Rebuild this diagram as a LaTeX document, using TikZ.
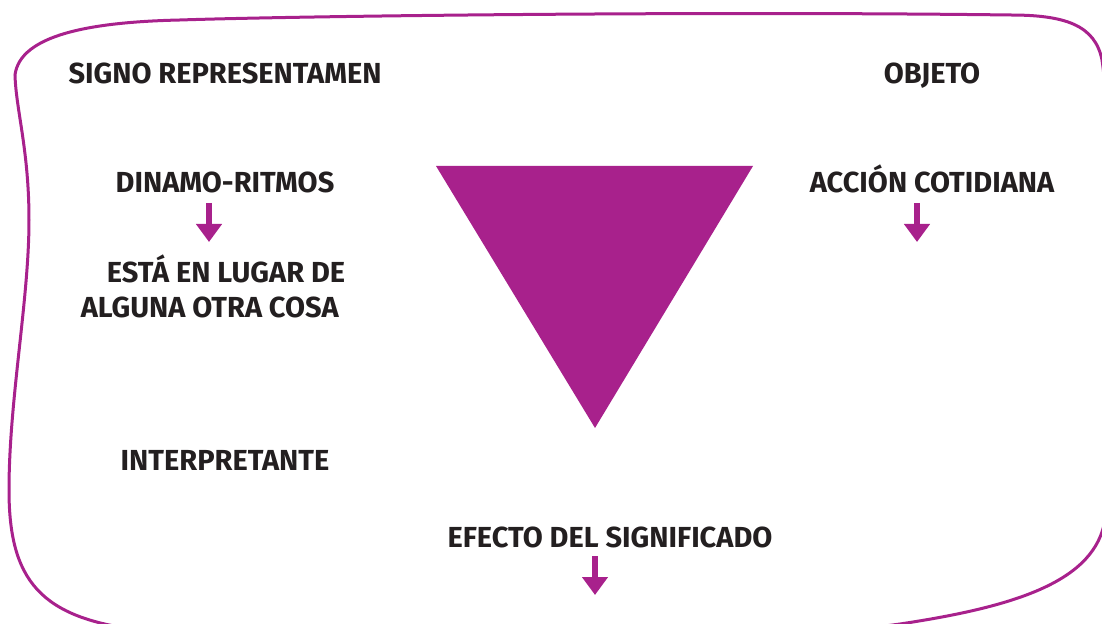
\documentclass[tikz,border=0pt]{standalone}
\usepackage{fontspec}
\setmainfont{Fira Sans}
\usetikzlibrary{arrows.meta}
\definecolor{signopurple}{RGB}{168,33,140}
\definecolor{textdark}{RGB}{35,31,32}

\begin{document}
\begin{tikzpicture}[
    x=0.5pt, y=-0.5pt,
    texto/.style={text=textdark, font=\fontsize{14.5}{17.5}\selectfont\bfseries, anchor=base, inner sep=0pt, align=left},
    flecha/.style={draw=signopurple, line width=3pt, -{Triangle[length=9pt, width=12.5pt]}},
    marco/.style={draw=signopurple, line width=1.5pt}
]
    \useasboundingbox (0,0) rectangle (1102,624);
    \clip (0,0) rectangle (1102,624);

    % Frame
    \draw[marco] (15,75) .. controls (16,110) and (29,150) .. (29,220)
        .. controls (29,300) and (9,400) .. (9,490)
        .. controls (9,580) and (40,618) .. (140,630)
        .. controls (400,650) and (750,645) .. (900,624)
        .. controls (1020,606) and (1095,580) .. (1105,520)
        .. controls (1115,400) and (1115,150) .. (1102,60)
        .. controls (1095,25) and (1065,15) .. (1010,15)
        .. controls (700,11) and (300,16) .. (180,20)
        .. controls (90,22) and (20,35) .. cycle;

    % Triangle
    \fill[signopurple] (436,166) -- (753,166) -- (595,428) -- cycle;

    % Labels
    \node[texto] (signo) at (225,84) {SIGNO REPRESENTAMEN};
    \node[texto] (objeto) at (932,84) {OBJETO};
    \node[texto] (dinamo) at (225,193) {DINAMO-RITMOS};
    \node[texto] (lugar) at (213,318) {\hspace*{0.9em}ESTÁ EN LUGAR DE\\ALGUNA OTRA COSA};
    \node[texto] (accion) at (932,193) {ACCIÓN COTIDIANA};
    \node[texto] (interp) at (225,471) {INTERPRETANTE};
    \node[texto] (efecto) at (610,547) {EFECTO DEL SIGNIFICADO};

    % Arrows
    \coordinate (dinamoA) at (209,203);
    \coordinate (dinamoB) at (209,242);
    \coordinate (accionA) at (917,203);
    \coordinate (accionB) at (917,242);
    \coordinate (efectoA) at (595,556);
    \coordinate (efectoB) at (595,595);
    \draw[flecha] (dinamoA) -- (dinamoB);
    \draw[flecha] (accionA) -- (accionB);
    \draw[flecha] (efectoA) -- (efectoB);
\end{tikzpicture}
\end{document}
